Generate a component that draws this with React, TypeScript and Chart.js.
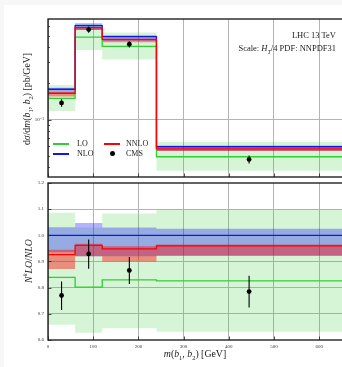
import React, { useEffect, useRef } from "react";
import { Chart, registerables } from "chart.js";
Chart.register(...registerables);

// ---- data ----
const binEdges = [0, 60, 120, 240, 700];
const nloXsec = [0.01787, 0.0605, 0.049, 0.00593];
const loRatio = [0.839, 0.802, 0.83, 0.826];
const nnloRatio = [0.926, 0.962, 0.948, 0.96];
const loBandLow = [0.658, 0.628, 0.645, 0.632];
const loBandHigh = [1.086, 1.03, 1.083, 1.098];
const nloBandLow = [0.935, 0.92, 0.92, 0.922];
const nloBandHigh = [1.031, 1.047, 1.03, 1.025];
const nnloBandLow = [0.871, 0.92, 0.9, 0.922];
const nnloBandHigh = [0.945, 0.968, 0.958, 0.965];
const cmsMass = [30, 90, 180, 445];
const cmsRatio = [0.77, 0.929, 0.866, 0.785];
const cmsRatioLow = [0.715, 0.872, 0.814, 0.724];
const cmsRatioHigh = [0.824, 0.984, 0.917, 0.846];
const xTicks = [0, 100, 200, 300, 400, 500, 600];
const ratioTicks = [0.6, 0.7, 0.8, 0.9, 1.0, 1.1, 1.2];
const xMax = 655;
const topMin = 0.00332;
const topMax = 0.0688;
const ratioMin = 0.6;
const ratioMax = 1.2;

const SERIF = "'Liberation Serif', 'DejaVu Serif', serif";
const GREEN = "#32cd32";
const BLUE = "#1515e8";
const RED = "#ff0000";
const GRID = "#b4b4b4";

function step(vals: number[], scale: number[] | null) {
  return binEdges.map((x, i) => {
    const k = Math.min(i, vals.length - 1);
    return { x, y: vals[k] * (scale ? scale[k] : 1) };
  });
}

function nloUnity() {
  return nloXsec.map(() => 1);
}

function buildDatasets(scale: number[] | null) {
  const line = (data: any, color: string) => ({
    data,
    borderColor: color,
    borderWidth: 1.3,
    pointRadius: 0,
    stepped: true,
    fill: false,
  });
  const band = (data: any, bg: string, fill: any) => ({
    data,
    borderWidth: 0,
    borderColor: "rgba(0,0,0,0)",
    backgroundColor: bg,
    pointRadius: 0,
    stepped: true,
    fill,
  });
  return [
    {
      data: cmsMass.map((x, i) => ({ x, y: cmsRatio[i] * (scale ? scale[i] : 1) })),
      showLine: false,
      pointRadius: 2.4,
      pointBackgroundColor: "#000",
      pointBorderColor: "#000",
      borderWidth: 0,
    },
    line(step(nnloRatio, scale), RED),
    line(step(nloUnity(), scale), BLUE),
    line(step(loRatio, scale), GREEN),
    band(step(nnloBandHigh, scale), "rgba(255,0,0,0.42)", "+1"),
    band(step(nnloBandLow, scale), "rgba(0,0,0,0)", false),
    band(step(nloBandHigh, scale), "rgba(0,0,255,0.3)", "+1"),
    band(step(nloBandLow, scale), "rgba(0,0,0,0)", false),
    band(step(loBandHigh, scale), "rgba(50,205,50,0.2)", "+1"),
    band(step(loBandLow, scale), "rgba(0,0,0,0)", false),
  ];
}

function framePlugin(isLog: boolean) {
  return {
    id: "frame",
    afterDatasetsDraw(chart: any) {
      const ctx = chart.ctx;
      const ys = chart.scales.y;
      const xs = chart.scales.x;
      const a = chart.chartArea;
      ctx.save();
      ctx.beginPath();
      ctx.rect(a.left, a.top, a.right - a.left, a.bottom - a.top);
      ctx.clip();
      ctx.strokeStyle = "#000";
      ctx.lineWidth = 1.1;
      const scale = isLog ? nloXsec : null;
      cmsMass.forEach((m, i) => {
        const f = scale ? scale[i] : 1;
        const x = xs.getPixelForValue(m);
        ctx.beginPath();
        ctx.moveTo(x, ys.getPixelForValue(cmsRatioLow[i] * f));
        ctx.lineTo(x, ys.getPixelForValue(cmsRatioHigh[i] * f));
        ctx.stroke();
      });
      ctx.restore();
    },
    afterDraw(chart: any) {
      const ctx = chart.ctx;
      const a = chart.chartArea;
      const xs = chart.scales.x;
      const ys = chart.scales.y;
      ctx.save();
      ctx.strokeStyle = "#111";
      ctx.lineWidth = 1.3;
      ctx.strokeRect(a.left, a.top, a.right - a.left, a.bottom - a.top);
      ctx.lineWidth = 0.8;
      ctx.strokeStyle = "#222";
      xTicks.forEach((t) => {
        const x = Math.round(xs.getPixelForValue(t)) + 0.5;
        ctx.beginPath();
        ctx.moveTo(x, a.bottom);
        ctx.lineTo(x, a.bottom - 3.5);
        ctx.stroke();
      });
      const yt: { v: number; len: number }[] = [];
      if (isLog) {
        for (let e = -3; e <= -1; e++) {
          for (let m = 1; m <= 9; m++) {
            const v = m * Math.pow(10, e);
            if (v >= topMin && v <= topMax) yt.push({ v, len: m === 1 ? 3.5 : 2 });
          }
        }
      } else {
        ratioTicks.forEach((v) => yt.push({ v, len: 3.5 }));
      }
      yt.forEach(({ v, len }) => {
        const y = Math.round(ys.getPixelForValue(v)) + 0.5;
        ctx.beginPath();
        ctx.moveTo(a.left, y);
        ctx.lineTo(a.left + len, y);
        ctx.stroke();
      });
      ctx.restore();
    },
  };
}

function makeChart(canvas: HTMLCanvasElement, isLog: boolean, pad: any) {
  const tickFont = { family: SERIF, size: 5 };
  return new Chart(canvas, {
    type: "line",
    data: { datasets: buildDatasets(isLog ? nloXsec : null) as any },
    options: {
      animation: false,
      responsive: false,
      events: [],
      layout: { autoPadding: false, padding: pad },
      plugins: { legend: { display: false }, tooltip: { enabled: false } },
      scales: {
        x: {
          type: "linear",
          min: 0,
          max: xMax,
          afterBuildTicks: (s: any) => {
            s.ticks = xTicks.map((v) => ({ value: v }));
          },
          afterFit: (s: any) => {
            s.height = isLog ? 0 : 27;
          },
          border: { display: false },
          grid: { color: GRID, lineWidth: 1, drawTicks: false },
          ticks: {
            display: !isLog,
            font: tickFont,
            color: "#333",
            padding: 4,
            maxRotation: 0,
            autoSkip: false,
          },
        },
        y: isLog
          ? {
              type: "logarithmic",
              min: topMin,
              max: topMax,
              afterBuildTicks: (s: any) => {
                s.ticks = [{ value: 0.01 }];
              },
              afterFit: (s: any) => {
                s.width = 48;
              },
              border: { display: false },
              grid: { color: GRID, lineWidth: 1, drawTicks: false },
              ticks: {
                font: tickFont,
                color: "#333",
                padding: 4,
                autoSkip: false,
                callback: (v: any) => (Math.abs(v - 0.01) < 1e-9 ? "10\u207B\u00B2" : ""),
              },
            }
          : {
              type: "linear",
              min: ratioMin,
              max: ratioMax,
              afterBuildTicks: (s: any) => {
                s.ticks = ratioTicks.map((v) => ({ value: v }));
              },
              afterFit: (s: any) => {
                s.width = 48;
              },
              border: { display: false },
              grid: {
                color: (c: any) =>
                  c.tick && (Math.abs(c.tick.value - ratioMin) < 1e-6 || Math.abs(c.tick.value - ratioMax) < 1e-6)
                    ? "rgba(0,0,0,0)"
                    : GRID,
                lineWidth: 1,
                drawTicks: false,
              },
              ticks: {
                font: tickFont,
                color: "#333",
                padding: 4,
                autoSkip: false,
                callback: (v: any) => Number(v).toFixed(1),
              },
            },
      },
    } as any,
    plugins: [framePlugin(isLog)],
  });
}

export default function App() {
  const topRef = useRef<HTMLCanvasElement>(null);
  const botRef = useRef<HTMLCanvasElement>(null);
  useEffect(() => {
    const c1 = makeChart(topRef.current!, true, { top: 19, bottom: 3, left: 0, right: 16 });
    const c2 = makeChart(botRef.current!, false, { top: 3, bottom: 0, left: 0, right: 16 });
    return () => {
      c1.destroy();
      c2.destroy();
    };
  }, []);

  const txt: React.CSSProperties = { position: "absolute", fontFamily: SERIF, color: "#222", whiteSpace: "nowrap", lineHeight: 1 };
  const legLine = (color: string, left: number, top: number) => (
    <div style={{ position: "absolute", left, top, width: 16, height: 1.5, background: color }} />
  );

  return (
    <div style={{ position: "fixed", left: 0, top: 0, width: 342, height: 367, overflow: "hidden", background: "#f7f7f7" }}>
      <div style={{ position: "absolute", left: 4, top: 5, width: 400, height: 400, background: "#fff" }} />
      <canvas ref={topRef} width={360} height={184} style={{ position: "absolute", left: 0, top: 0, width: 360, height: 184 }} />
      <canvas ref={botRef} width={360} height={191} style={{ position: "absolute", left: 0, top: 176, width: 360, height: 191 }} />

      {/* annotations */}
      <div style={{ ...txt, right: 6, top: 31, fontSize: 8.5 }}>LHC 13 TeV</div>
      <div style={{ ...txt, right: 6, top: 44, fontSize: 8.5 }}>
        Scale: <i>H</i><sub style={{ fontSize: 6 }}><i>T</i></sub>/4 PDF: NNPDF31
      </div>

      {/* legend */}
      {legLine(GREEN, 53, 143)}
      <div style={{ ...txt, left: 77, top: 139.5, fontSize: 8 }}>LO</div>
      {legLine(RED, 104, 143)}
      <div style={{ ...txt, left: 126, top: 139.5, fontSize: 8 }}>NNLO</div>
      {legLine(BLUE, 53, 153)}
      <div style={{ ...txt, left: 77, top: 149.5, fontSize: 8 }}>NLO</div>
      <div style={{ position: "absolute", left: 109.5, top: 151, width: 5, height: 5, borderRadius: 3, background: "#000" }} />
      <div style={{ ...txt, left: 126, top: 149.5, fontSize: 8 }}>CMS</div>

      {/* axis titles */}
      <div style={{ ...txt, left: 28, top: 99, fontSize: 9.8, transform: "translate(-50%,-50%) rotate(-90deg)" }}>
        d<i>σ</i>/d<i>m</i>(<i>b</i><sub style={{ fontSize: 6.5 }}>1</sub>, <i>b</i><sub style={{ fontSize: 6.5 }}>2</sub>) [pb/GeV]
      </div>
      <div style={{ ...txt, left: 28, top: 261, fontSize: 9.8, transform: "translate(-50%,-50%) rotate(-90deg)" }}>
        <i>N</i><sup style={{ fontSize: 6.5 }}><i>k</i></sup><i>LO</i>/<i>NLO</i>
      </div>
      <div style={{ ...txt, left: 195, top: 355, fontSize: 9.8, transform: "translate(-50%,-50%)" }}>
        <i>m</i>(<i>b</i><sub style={{ fontSize: 6.5 }}>1</sub>, <i>b</i><sub style={{ fontSize: 6.5 }}>2</sub>) [GeV]
      </div>
    </div>
  );
}
